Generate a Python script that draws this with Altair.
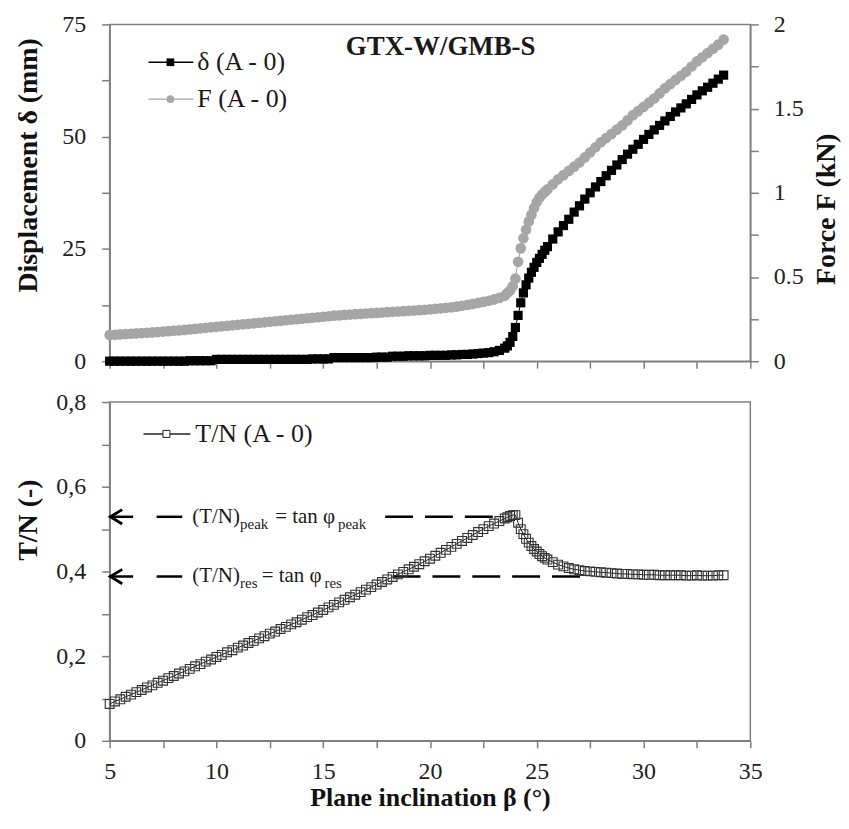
import altair as alt
import pandas as pd

# ---------------- data ----------------
beta = [5.0, 5.25, 5.5, 5.75, 6.0, 6.25, 6.5, 6.75, 7.0, 7.25, 7.5, 7.75, 8.0, 8.25, 8.5, 8.75, 9.0, 9.25, 9.5, 9.75,
        10.0, 10.25, 10.5, 10.75, 11.0, 11.25, 11.5, 11.75, 12.0, 12.25, 12.5, 12.75, 13.0, 13.25, 13.5, 13.75, 14.0, 14.25, 14.5, 14.75, 15.0, 15.25,
        15.5, 15.75, 16.0, 16.25, 16.5, 16.75, 17.0, 17.25, 17.5, 17.75, 18.0,
        18.25, 18.5, 18.75, 19.0, 19.25, 19.5, 19.75, 20.0, 20.25, 20.5, 20.75, 21.0,
        21.25, 21.5, 21.75, 22.0, 22.25, 22.5, 22.75, 23.0, 23.25, 23.5,
        23.625, 23.75, 23.875, 24.0, 24.125, 24.25, 24.375, 24.5, 24.625, 24.75, 24.875, 25.0, 25.125, 25.25, 25.375, 25.5,
        25.75, 26.0, 26.25, 26.5, 26.75, 27.0, 27.25, 27.5, 27.75, 28.0, 28.25, 28.5, 28.75, 29.0, 29.25, 29.5, 29.75, 30.0,
        30.25, 30.5, 30.75, 31.0, 31.25, 31.5, 31.75, 32.0, 32.25, 32.5, 32.75, 33.0, 33.25, 33.5, 33.75]

delta_mm = [0.0, 0.0, 0.0, 0.0, 0.0, 0.0, 0.0, 0.0, 0.0, 0.0, 0.0, 0.0, 0.0, 0.0, 0.0, 0.1, 0.1, 0.1, 0.1, 0.1,
            0.4, 0.4, 0.4, 0.4, 0.4, 0.4, 0.4, 0.4, 0.4, 0.4, 0.4, 0.4, 0.4, 0.4, 0.4, 0.4, 0.4, 0.4, 0.5, 0.5, 0.5, 0.5,
            0.8, 0.8, 0.8, 0.8, 0.8, 0.8, 0.8, 0.8, 0.9, 0.9, 0.9,
            1.1, 1.1, 1.1, 1.2, 1.2, 1.2, 1.2, 1.3, 1.3, 1.3, 1.3, 1.4,
            1.4, 1.5, 1.5, 1.6, 1.7, 1.8, 1.9, 2.1, 2.4, 2.9,
            3.4, 4.2, 5.5, 7.5, 10.2, 13.0, 15.2, 17.0, 18.5, 19.8, 20.9, 22.0, 22.9, 23.8, 24.7, 25.5,
            27.2, 28.8, 30.2, 31.6, 33.2, 34.6, 36.1, 37.5, 38.8, 40.0, 41.3, 42.5, 43.7, 44.9, 46.1, 47.2, 48.3, 49.4,
            50.5, 51.5, 52.5, 53.5, 54.5, 55.5, 56.4, 57.3, 58.3, 59.3, 60.2, 61.0, 61.9, 62.8, 63.7]

force_kN = [0.155, 0.157, 0.159, 0.161, 0.163, 0.165, 0.167, 0.169, 0.171, 0.173, 0.176, 0.178, 0.181, 0.183, 0.186, 0.189, 0.192, 0.195, 0.198, 0.201,
            0.204, 0.207, 0.210, 0.213, 0.216, 0.219, 0.222, 0.225, 0.228, 0.231, 0.234, 0.237, 0.240, 0.243, 0.246, 0.249, 0.252, 0.255, 0.258, 0.261, 0.264, 0.267,
            0.270, 0.272, 0.275, 0.277, 0.279, 0.281, 0.283, 0.285, 0.287, 0.289, 0.291,
            0.293, 0.295, 0.297, 0.299, 0.301, 0.303, 0.305, 0.308, 0.311, 0.314, 0.317, 0.320,
            0.324, 0.329, 0.334, 0.340, 0.346, 0.352, 0.359, 0.367, 0.376, 0.388,
            0.405, 0.42, 0.445, 0.49, 0.59, 0.67, 0.73, 0.78, 0.83, 0.87, 0.91, 0.945, 0.97, 0.99, 1.005, 1.02,
            1.05, 1.08, 1.105, 1.13, 1.155, 1.18, 1.21, 1.24, 1.27, 1.30, 1.325, 1.35, 1.375, 1.40, 1.43, 1.46, 1.485, 1.51,
            1.535, 1.56, 1.59, 1.62, 1.645, 1.67, 1.695, 1.72, 1.75, 1.78, 1.805, 1.83, 1.855, 1.88, 1.91]

tn_ratio = [0.087, 0.093, 0.098, 0.104, 0.109, 0.115, 0.120, 0.126, 0.131, 0.137, 0.142, 0.148, 0.153, 0.159, 0.164, 0.170, 0.176, 0.181, 0.187, 0.192,
            0.198, 0.203, 0.209, 0.214, 0.220, 0.225, 0.231, 0.236, 0.242, 0.247, 0.253, 0.258, 0.264, 0.269, 0.275, 0.280, 0.286, 0.292, 0.297, 0.303, 0.309, 0.315,
            0.321, 0.327, 0.333, 0.339, 0.345, 0.351, 0.357, 0.363, 0.369, 0.375, 0.381,
            0.387, 0.393, 0.399, 0.405, 0.411, 0.417, 0.424, 0.430, 0.437, 0.444, 0.451, 0.458,
            0.465, 0.472, 0.479, 0.486, 0.493, 0.500, 0.507, 0.513, 0.519, 0.525,
            0.528, 0.531, 0.533, 0.533, 0.515, 0.500, 0.488, 0.477, 0.468, 0.460, 0.453, 0.447, 0.441, 0.436, 0.432, 0.428,
            0.422, 0.416, 0.412, 0.408, 0.405, 0.403, 0.401, 0.400, 0.399, 0.398, 0.397, 0.396, 0.395, 0.394, 0.394, 0.393, 0.393, 0.392,
            0.392, 0.392, 0.391, 0.391, 0.391, 0.391, 0.391, 0.390, 0.390, 0.391, 0.390, 0.390, 0.390, 0.391, 0.391]

x_ticks = [5, 7.5, 10, 12.5, 15, 17.5, 20, 22.5, 25, 27.5, 30, 32.5, 35]
delta_ticks = [0, 12.5, 25, 37.5, 50, 62.5, 75]
force_ticks = [0, 0.25, 0.5, 0.75, 1, 1.25, 1.5, 1.75, 2]
tn_ticks = [0, 0.1, 0.2, 0.3, 0.4, 0.5, 0.6, 0.7, 0.8]

# annotation values (T/N peak and residual levels)
tn_peak = 0.529
tn_res = 0.388
ref_df = pd.DataFrame({"x1": [17.9, 18.25], "x2": [23.4, 27.3], "y": [tn_peak, tn_res]})
seg_df = pd.DataFrame({"x1": [5.0, 7.2, 5.0, 7.2], "x2": [6.1, 8.4, 6.1, 8.4],
                       "y": [tn_peak, tn_peak, tn_res, tn_res]})
arrow_df = pd.DataFrame({"x1": [5.03, 5.03], "y": [tn_peak, tn_res]})
main_txt = pd.DataFrame({"x1": [8.87, 12.75, 8.87, 12.12],
                         "y": [tn_peak, tn_peak, tn_res, tn_res],
                         "t": ["(T/N)", "= tan \u03c6", "(T/N)", "= tan \u03c6"]})
sub_txt = pd.DataFrame({"x1": [11.11, 15.69, 11.11, 15.06],
                        "y": [tn_peak, tn_peak, tn_res, tn_res],
                        "t": ["peak", "peak", "res", "res"]})

df = pd.DataFrame({"beta": beta, "delta": delta_mm, "force": force_kN, "tn": tn_ratio})
one = pd.DataFrame({"k": [0]})

SERIF = "'Liberation Serif', 'Times New Roman', Times, serif"
GRAY = "#a6a6a6"
W, H_TOP, H_BOT = 643, 338, 340

# ---------------- top panel ----------------
x_scale = alt.Scale(domain=[5, 35], nice=False, zero=False)
top_x_axis = alt.Axis(values=x_ticks, labels=False, title=None, tickSize=7)


def tx(field="beta:Q"):
    return alt.X(field, scale=x_scale, axis=top_x_axis)


delta_axis = alt.Axis(values=delta_ticks, orient="left",
                      labelExpr="datum.value % 25 == 0 ? format(datum.value, 'd') : ''",
                      title="Displacement \u03b4 (mm)", tickSize=8, labelPadding=16,
                      minExtent=55, maxExtent=55, titlePadding=12, titleFontSize=28, titleY=141)
force_axis = alt.Axis(values=force_ticks, orient="right",
                      labelExpr="(datum.value * 2) % 1 == 0 ? format(datum.value, '~g') : ''",
                      title="Force F (kN)", tickSize=8, labelPadding=15, titlePadding=37,
                      titleAngle=270, titleFontSize=28, titleY=185)


def ty_delta(field="delta:Q"):
    return alt.Y(field, scale=alt.Scale(domain=[0, 75], nice=False), axis=delta_axis)


def ty_force(field="force:Q"):
    return alt.Y(field, scale=alt.Scale(domain=[0, 2], nice=False), axis=force_axis)


base = alt.Chart(df)
f_line = base.mark_line(color=GRAY, strokeWidth=1).encode(x=tx(), y=ty_force())
f_pts = base.mark_point(shape="circle", filled=True, color=GRAY, size=115, opacity=1).encode(x=tx(), y=ty_force())
f_layer = alt.layer(f_line, f_pts)

d_line = base.mark_line(color="black", strokeWidth=1).encode(x=tx(), y=ty_delta())
d_pts = base.mark_point(shape="square", filled=True, color="black", size=85, opacity=1).encode(x=tx(), y=ty_delta())
gtx = alt.Chart(pd.DataFrame({"beta": [20.5], "delta": [69.9], "label": ["GTX-W/GMB-S"]})).mark_text(
    font=SERIF, fontSize=27, fontWeight="bold", color="#1a1a1a", align="center", baseline="middle"
).encode(x=tx(), y=ty_delta(), text="label:N")
d_layer = alt.layer(d_line, d_pts, gtx)

# legend (top)
leg_items = []
for yy, col, shp, lab in [(38, "black", "square", "\u03b4 (A - 0)"), (75, GRAY, "circle", "F (A - 0)")]:
    leg_items.append(alt.Chart(one).mark_rule(color=col, strokeWidth=1.5).encode(
        x=alt.value(39), x2=alt.value(84), y=alt.value(yy)))
    leg_items.append(alt.Chart(one).mark_point(shape=shp, filled=True, color=col, size=60, opacity=1).encode(
        x=alt.value(61), y=alt.value(yy)))
    leg_items.append(alt.Chart(one).mark_text(text=lab, font=SERIF, fontSize=26, color="#1a1a1a",
                                              align="left", baseline="middle").encode(
        x=alt.value(88), y=alt.value(yy)))

top = alt.layer(f_layer, d_layer, *leg_items).resolve_scale(y="independent").properties(width=W, height=H_TOP)

# ---------------- bottom panel ----------------
bot_x_axis = alt.Axis(values=x_ticks, labelExpr="datum.value % 5 == 0 ? format(datum.value, 'd') : ''",
                      title="Plane inclination \u03b2 (\u00b0)", tickSize=7, labelPadding=12, titlePadding=1,
                      titleFontSize=26)
tn_axis = alt.Axis(values=tn_ticks,
                   labelExpr="round(datum.value * 10) % 2 == 0 ? replace(format(datum.value, '~g'), '.', ',') : ''",
                   title="T/N (-)", tickSize=8, labelPadding=16, minExtent=55, maxExtent=55, titlePadding=12,
                   titleFontSize=28, titleY=118)


def bx(field="beta:Q"):
    return alt.X(field, scale=x_scale, axis=bot_x_axis)


def by(field="tn:Q"):
    return alt.Y(field, scale=alt.Scale(domain=[0, 0.8], nice=False), axis=tn_axis)


ref_rules = alt.Chart(ref_df).mark_rule(color="black", strokeWidth=2.5, strokeDash=[28, 12]).encode(
    x=bx("x1:Q"), x2="x2:Q", y=by("y:Q"))
seg_rules = alt.Chart(seg_df).mark_rule(color="black", strokeWidth=2.5).encode(
    x=bx("x1:Q"), x2="x2:Q", y=by("y:Q"))
arrows = alt.Chart(arrow_df).mark_point(shape="M1,-0.6L0,0L1,0.6", filled=False, color="black",
                                        strokeWidth=2.8, size=576, opacity=1).encode(x=bx("x1:Q"), y=by("y:Q"))
txt_main = alt.Chart(main_txt).mark_text(font=SERIF, fontSize=21, color="#1a1a1a", align="left",
                                         baseline="middle").encode(x=bx("x1:Q"), y=by("y:Q"), text="t:N")
txt_sub = alt.Chart(sub_txt).mark_text(font=SERIF, fontSize=15, color="#1a1a1a", align="left",
                                       baseline="middle", dy=7).encode(x=bx("x1:Q"), y=by("y:Q"), text="t:N")

tn_line = base.mark_line(color="#222222", strokeWidth=1).encode(x=bx(), y=by())
tn_pts = base.mark_point(shape="square", filled=False, color="#333333", strokeWidth=1.1, size=78, opacity=1).encode(
    x=bx(), y=by())

leg_b = [
    alt.Chart(one).mark_rule(color="#222222", strokeWidth=1.5).encode(x=alt.value(34), x2=alt.value(81), y=alt.value(32)),
    alt.Chart(one).mark_point(shape="square", filled=True, fill="white", stroke="#222222", strokeWidth=1,
                              size=50, opacity=1).encode(x=alt.value(57), y=alt.value(32)),
    alt.Chart(one).mark_text(text="T/N (A - 0)", font=SERIF, fontSize=26, color="#1a1a1a", align="left",
                             baseline="middle").encode(x=alt.value(86), y=alt.value(32)),
]

bottom = alt.layer(ref_rules, seg_rules, arrows, txt_main, txt_sub, tn_line, tn_pts, *leg_b).properties(
    width=W, height=H_BOT)

chart = alt.vconcat(top, bottom, spacing=15).properties(
    padding={"left": 6, "top": 2, "right": 0, "bottom": 2}
).configure_view(
    stroke="#7f7f7f", strokeWidth=1.5
).configure_axis(
    domainColor="#7f7f7f", domainWidth=1.5, tickColor="#7f7f7f", tickWidth=1.5,
    labelFont=SERIF, labelFontSize=24, labelColor="#222222",
    titleFont=SERIF, titleFontSize=24, titleFontWeight="bold", titleColor="#111111",
    grid=False, labelFlush=False, labelOverlap=False, labelBound=False
)

chart.save("out.html", embed_options={"renderer": "svg", "actions": False})
